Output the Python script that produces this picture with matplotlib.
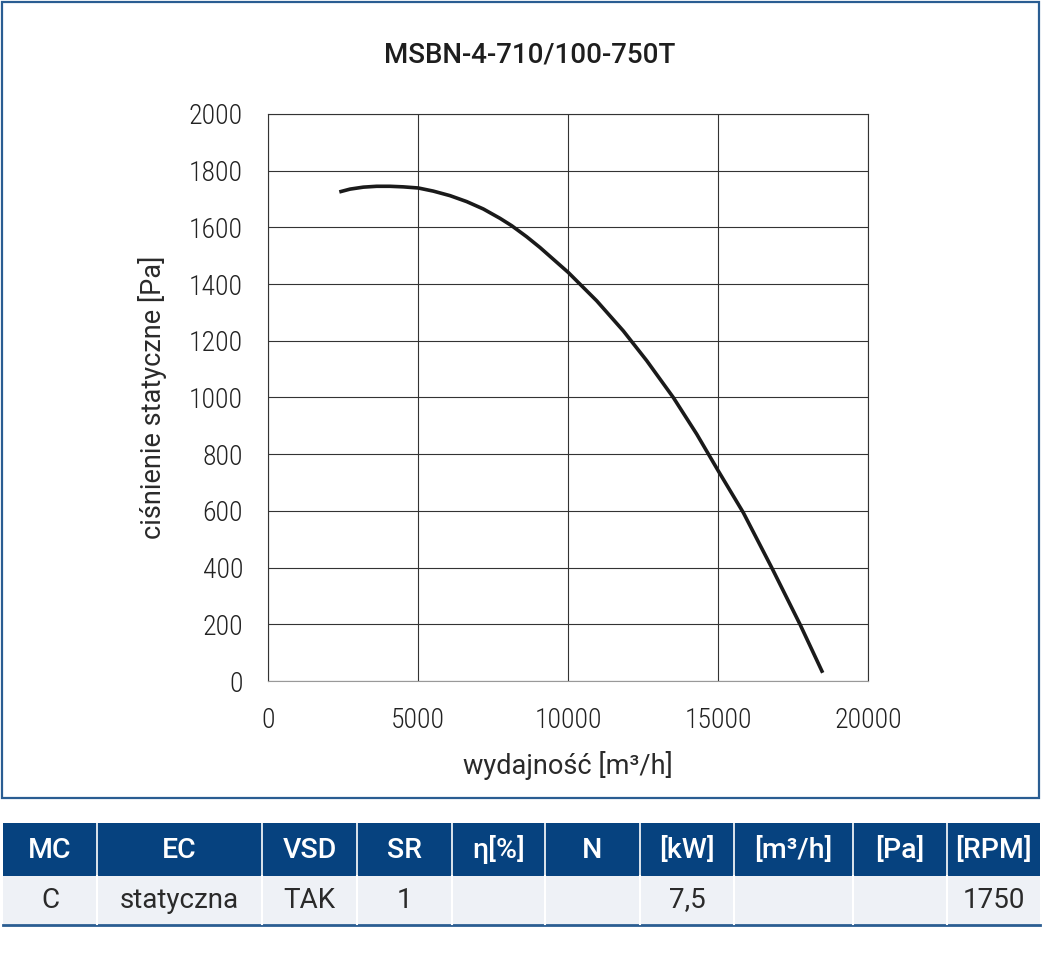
import matplotlib
matplotlib.use("Agg")
import matplotlib.pyplot as plt
from matplotlib.patches import Rectangle

plt.rcParams['font.family'] = ['Roboto', 'DejaVu Sans']
cond = ['Roboto Condensed', 'Roboto', 'DejaVu Sans']

# fan curve
flow = [2377, 2733, 3178, 3622, 4067, 4511, 5010, 5510, 6067, 6623,
        7177, 7733, 8123, 8623, 9067, 10010, 10957, 11843, 12623, 13510,
        14290, 15010, 15843, 16790, 17733, 18490]
pressure = [1725, 1735, 1742, 1745, 1745, 1743, 1739, 1728, 1712, 1691,
            1665, 1632, 1606, 1567, 1529, 1441, 1341, 1235, 1130, 1000,
            871, 741, 594, 400, 200, 29]

title = "MSBN-4-710/100-750T"
x_ticks = [0, 5000, 10000, 15000, 20000]
y_ticks = [0, 200, 400, 600, 800, 1000, 1200, 1400, 1600, 1800, 2000]

# table under the chart
col_names = ["MC", "EC", "VSD", "SR", "η[%]", "N", "[kW]", "[m³/h]", "[Pa]", "[RPM]"]
col_values = ["C", "statyczna", "TAK", "1", "", "", "7,5", "", "", "1750"]
col_edges = [3, 97, 262, 357, 452, 545, 640, 734, 853, 947, 1040]

W, H = 1043, 957
fig = plt.figure(figsize=(W / 100, H / 100), dpi=100)

ax = fig.add_axes([268 / W, 1 - 681 / H, 600 / W, 567 / H])
ax.plot(flow, pressure, color="#1a1a1a", lw=2.6, solid_capstyle="butt",
        solid_joinstyle="round")
ax.set_xlim(0, 20000)
ax.set_ylim(0, 2000)
ax.set_xticks(x_ticks)
ax.set_yticks(y_ticks)
ax.grid(True, color="#333333", lw=0.8)
ax.set_axisbelow(True)
ax.tick_params(length=0, labelsize=20, colors="#222222")
for lab in ax.get_xticklabels() + ax.get_yticklabels():
    lab.set_fontweight("light")
    lab.set_family(cond)
ax.tick_params(axis="y", pad=18)
ax.tick_params(axis="x", pad=19)
for s in ax.spines.values():
    s.set_color("#333333")
    s.set_linewidth(0.8)
ax.spines["bottom"].set_color("#999999")
ax.set_xlabel("wydajność [m³/h]", fontsize=19.5, color="#2a2a2a", labelpad=12)
ax.set_ylabel("ciśnienie statyczne [Pa]", fontsize=19.5, color="#2a2a2a",
              labelpad=16)

# overlay in pixel coordinates for the frame, title and table
ov = fig.add_axes([0, 0, 1, 1], zorder=-1)
ov.set_xlim(0, W)
ov.set_ylim(H, 0)
ov.axis("off")

ov.add_patch(Rectangle((2, 2), 1037, 796, fill=False, ec="#2a5d92", lw=1.6))
ov.text(530, 55, title, ha="center", va="center", fontsize=20,
        fontweight="medium", color="#1e1e1e")

blue = "#06427f"
ov.add_patch(Rectangle((3, 823), 1037, 53, fc=blue, ec="none"))
ov.add_patch(Rectangle((3, 876), 1037, 48, fc="#eef1f6", ec="none"))
ov.plot([3, 1040], [925, 925], color="#2a5d92", lw=2)
for i in range(len(col_names)):
    x0, x1 = col_edges[i], col_edges[i + 1]
    xc = (x0 + x1) / 2
    ov.text(xc, 850, col_names[i], ha="center", va="center", fontsize=20.5,
            fontweight="medium", color="white")
    ov.text(xc, 900, col_values[i], ha="center", va="center", fontsize=20,
            color="#2a2a2a")
    if i > 0:
        ov.plot([x0, x0], [823, 876], color="white", lw=1.2)
        ov.plot([x0, x0], [876, 924], color="white", lw=1.5)

fig.savefig("out.png", dpi=100)
